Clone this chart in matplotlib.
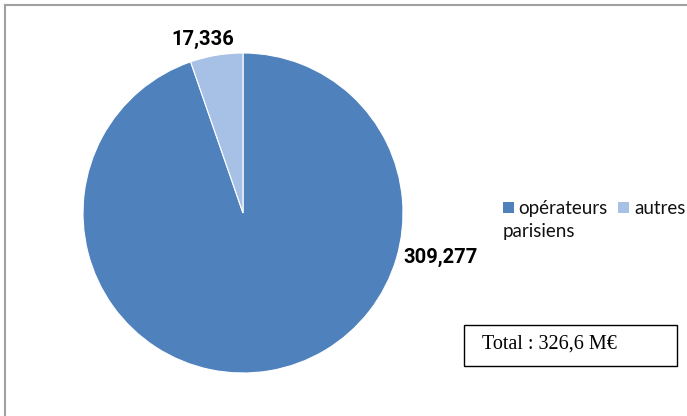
import matplotlib
matplotlib.use("Agg")
import matplotlib.pyplot as plt
from matplotlib.lines import Line2D

categories = ["opérateurs\nparisiens", "autres"]
values = [309.277, 17.336]
value_labels = ["309,277", "17,336"]
total_label = "Total : 326,6 M€"
colors = ["#4F81BD", "#A7C0E5"]

W, H = 687, 416
fig = plt.figure(figsize=(W / 100, H / 100), dpi=100)
sans = ["Lato", "DejaVu Sans"]
bold_sans = ["Roboto", "DejaVu Sans"]

# outer frame (top and left edges visible)
fig.add_artist(Line2D([5 / W, 5 / W], [0, 1 - 5 / H], transform=fig.transFigure,
                      color="#A0A0A0", lw=1.5))
fig.add_artist(Line2D([5 / W, 1], [1 - 5 / H, 1 - 5 / H], transform=fig.transFigure,
                      color="#A0A0A0", lw=1.5))

ax = fig.add_axes([83 / W, 43 / H, 320 / W, 320 / H])
wedges, _ = ax.pie(values, colors=colors, startangle=90, counterclock=False,
                   wedgeprops=dict(edgecolor="white", linewidth=0.8))
ax.set_xlim(-1, 1)
ax.set_ylim(-1, 1)
ax.set_aspect("equal")
ax.axis("off")

label_pos = [(1.235, -0.28), (-0.25, 1.085)]
for (x, y), lab in zip(label_pos, value_labels):
    ax.text(x, y, lab, ha="center", va="center", fontsize=14.5, fontweight="bold",
            family=bold_sans, clip_on=False)

# legend drawn manually (Excel wraps the first label)
px = lambda x: x / W
py = lambda y: 1 - y / H
marker_x = [503, 618]
text_x = [518, 634]
for i, (lab, col) in enumerate(zip(categories, colors)):
    fig.add_artist(plt.Rectangle((px(marker_x[i]), py(213)), 11 / W, 11 / H,
                                 transform=fig.transFigure, fc=col, ec="none"))
    for j, line in enumerate(lab.split("\n")):
        fig.text(px(text_x[i] if j == 0 else 503), py(214 + 23 * j), line,
                 ha="left", va="baseline", family=sans, fontsize=13.5,
                 color="#111111")

fig.text(482 / W, 1 - 344 / H, total_label, ha="left", va="center",
         family=["Liberation Serif", "DejaVu Serif"], fontsize=14.5)
fig.add_artist(plt.Rectangle((464 / W, 1 - 366 / H), 213 / W, 41 / H,
                             transform=fig.transFigure, fill=False,
                             ec="black", lw=1.0))

fig.savefig("out.png", dpi=100)
